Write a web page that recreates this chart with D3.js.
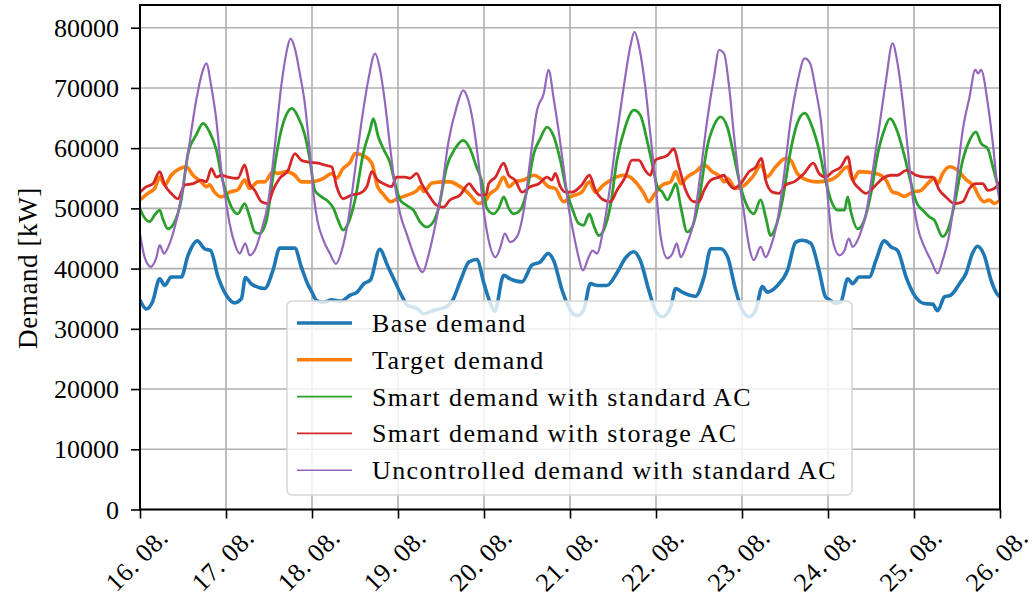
<!DOCTYPE html>
<html>
<head>
<meta charset="utf-8">
<script src="https://cdn.jsdelivr.net/npm/d3@7"></script>
<style>
  body { margin: 0; background: #fff; }
  text { font-family: "Liberation Serif", "Times New Roman", serif; fill: #000; }
</style>
</head>
<body>
<svg id="chart" width="1036" height="601"></svg>
<script>
// hours since 16.08. 00:00, demand in kW
var baseDemand = [
  [0,34800],[1.8,33300],[3.5,34500],[5.5,38300],[6.9,37200],[8.7,38600],[11.5,38600],[13.4,42200],[16,44600],[18,43300],
  [19.7,43000],[21.8,38600],[24.4,35300],[26.4,34300],[28.3,35000],[29.4,38500],[31,37500],[34.8,36700],[37.1,39700],[39,43400],
  [43.2,43400],[45,40300],[46.9,37300],[47.8,36300],[49.3,34700],[51.2,34400],[53.5,34800],[56,34600],[58.7,35600],[60.6,36100],
  [62.5,37500],[64.3,38100],[66.9,43200],[69,40600],[70.8,38300],[73.2,35300],[74.6,33900],[77.3,33400],[79.2,32500],[82,33100],
  [85.3,33600],[87.2,34700],[89.5,38100],[91.8,41100],[94,41500],[96,37500],[97.8,34200],[99,32900],[101.5,38900],[103.3,38300],
  [106.6,37800],[109.4,40600],[111.7,41100],[113.9,42500],[115.4,41400],[117.8,36400],[120.1,33100],[122,32200],[123.8,33100],[125.7,37500],
  [127.6,37200],[130.3,37200],[133.2,39400],[135.4,41700],[137.8,42800],[139.6,41400],[142,36400],[143.8,33100],[145.8,32000],[148.1,33600],
  [149.5,36700],[151.3,36100],[155,35400],[157.4,38600],[159.3,43300],[162,43300],[164,41900],[166,37000],[167.7,33600],[170,32000],
  [171.8,33100],[173.7,37000],[175,36100],[177.9,37200],[180.7,39700],[183,44400],[184.8,44700],[187.2,44200],[189.5,39700],[191.3,35300],
  [192.5,34800],[194.2,34200],[195.6,34500],[197.5,38300],[198.9,37500],[200.7,38600],[203.5,38600],[205.4,41400],[207.7,44600],[209.6,43600],
  [211.4,43000],[213.8,38600],[216.1,35600],[218.9,34200],[221.2,34100],[222.6,33000],[224.5,35300],[226.3,35600],[228.7,37500],[230.5,39200],
  [232.3,42500],[233.7,43700],[235.6,42200],[237.5,38100],[239.3,35700],[240,35300]
];

var targetDemand = [
  [0,51400],[2.2,52500],[4.1,53300],[5.5,55200],[6.9,53900],[8.7,55500],[11.1,56600],[12.9,56900],[14.8,55500],[17.1,54400],
  [18.5,53600],[19.4,53900],[20.8,52700],[22.7,51900],[25,52700],[27.3,53100],[29.2,54700],[30.6,53300],[32.9,54400],[34.8,54400],
  [37.1,56100],[38.5,55800],[40.8,56100],[43.2,55500],[45,54400],[47.4,54400],[51.2,55000],[53.5,55800],[54.9,55000],[56.5,56500],
  [58.7,57700],[60,59100],[62.8,58600],[64.7,57500],[66.3,53600],[67.7,52500],[70,51100],[71.8,51600],[74.6,52200],[77.4,53000],
  [78.2,53600],[79.2,52800],[81.5,54200],[84.8,54400],[86.7,54400],[88.5,53900],[90.8,53000],[92.6,51900],[94.4,50800],[96.6,51400],
  [97.3,52200],[99.6,53300],[101.5,55200],[102.9,53600],[104.7,54400],[107.1,54700],[109.9,55500],[111.7,55000],[114,53600],[115.9,53300],
  [118.2,51100],[120.1,51900],[123.3,52700],[125.4,54400],[127.1,52700],[129.4,53900],[132.2,55000],[135,55500],[136.8,55200],[138.7,54100],
  [140.6,52500],[142,51100],[143.4,52200],[145.8,53900],[148.1,54400],[149.5,56100],[150.9,54100],[152.7,55200],[155.1,56100],[157.4,57200],
  [159.7,56100],[162,55200],[163,54400],[164,55000],[166.2,53300],[168.1,53600],[170.9,55200],[173.4,57200],[174.9,55200],[177.4,56900],
  [180.2,58300],[181.6,58000],[183.4,55800],[186.2,54700],[189,54400],[192.6,54700],[194.2,55200],[197.5,56900],[198.9,54700],[200.7,56100],
  [205.4,55800],[208.2,54700],[210,52700],[211.4,52500],[213.3,52000],[215.6,52700],[218,53000],[219.8,54100],[221.7,55000],[222.6,54100],
  [224,55800],[226,56900],[228.2,56300],[230.5,54800],[232.8,53600],[234.2,51900],[235.6,51100],[237,51400],[238.4,50800],[240,51400]
];

var smartStandard = [
  [0,50000],[0.4,49400],[2.7,47800],[4.1,48900],[5.5,49700],[6.4,48200],[7.8,46600],[9.7,47800],[11.5,51400],[13.4,59100],
  [15.7,62200],[17.6,64100],[19.4,62700],[21.3,59700],[22.7,55500],[24.1,52500],[26,49700],[27.3,49100],[29.2,50800],[30.6,48600],
  [32,46100],[33.4,45800],[35.3,48000],[37.1,55200],[39,61900],[40.8,65500],[42.4,66600],[44.1,65200],[45.9,62400],[47.3,58500],
  [48.8,53000],[50.7,51900],[52.6,51100],[54,50000],[55.3,48000],[56.7,46400],[58.1,47500],[60,51400],[62.3,59100],[64.2,63000],
  [65.1,64900],[66.5,61900],[67.9,59900],[69.8,57500],[71.2,54100],[72.6,51400],[74.4,50500],[76.3,49700],[78.1,47800],[80,46900],
  [81.9,47800],[83.3,50000],[85.6,56900],[87.9,59900],[90.2,61300],[92.1,59900],[93.9,56900],[95.3,54700],[96.8,50000],[98.7,49100],
  [100.1,50000],[101.5,51900],[102.9,50000],[104.3,49100],[106.1,49700],[108,53000],[109.9,59100],[111.7,61600],[113.6,63500],[115.5,61900],
  [117.3,58000],[119.2,52500],[120.6,50000],[122.4,47500],[123.8,47200],[125.4,49100],[126.6,47200],[128,45500],[129.4,46400],[131.3,50500],
  [133.1,58000],[135.4,63500],[137.8,66300],[139.6,65500],[141.5,61300],[142.9,57500],[144.4,53600],[145.8,52700],[147.2,51400],[148.6,53000],
  [149.5,54100],[150.9,50300],[152.7,46100],[154.1,46900],[156,51400],[158.3,60200],[160.2,63800],[162,65200],[163.9,63500],[165.8,58600],
  [167.6,53600],[169.5,50300],[171.3,49100],[173.2,51400],[174.6,48600],[176,45500],[177.4,46900],[179.3,51400],[181.6,59700],[183.4,64100],
  [185.5,65800],[187.6,63500],[189.5,59700],[191.3,54700],[192.8,51400],[194.7,49700],[196.6,49700],[197.5,51900],[198.4,49400],[200.3,46600],
  [202.1,48000],[204,52500],[205.9,59100],[207.7,63000],[209.3,64900],[211.4,62700],[213.3,58800],[215.2,54100],[216.6,51100],[218.4,49700],
  [220.3,48600],[221.7,48000],[224,45300],[225.9,47200],[227.7,51900],[229.6,58000],[231.5,61300],[233.3,62700],[234.7,60800],[236.6,59900],
  [238,56900],[240,52500]
];

var smartStorage = [
  [0,52700],[1.8,53600],[3.6,54100],[5.5,56100],[6.9,53900],[8.7,52500],[10.6,51600],[12.5,53900],[14.8,54100],[17.1,54700],
  [18.5,54400],[19.9,56600],[21.3,55200],[22.7,55500],[24.6,55200],[27.3,55000],[29.2,57200],[30.6,54100],[32,53000],[33.9,51100],
  [35.7,50800],[37.1,53000],[39,55000],[41.3,56300],[43.2,59100],[45,58000],[46.9,57700],[49.8,57500],[51.6,57200],[53.5,56900],
  [54.9,53600],[56.7,51600],[59,52200],[61.4,52500],[63.3,53600],[64.7,56100],[66.3,54700],[68,54100],[70.2,53600],[71.6,55200],
  [74,55200],[75.3,55000],[77.2,55800],[78.6,54100],[80.9,51900],[82.8,50500],[84.7,50200],[86.5,51400],[89.3,52200],[91.9,54100],
  [93,53300],[94.9,52200],[96.6,52300],[97.3,54100],[99.2,55200],[101.5,57500],[102.9,55500],[104.7,54700],[106.6,52700],[108.9,53600],
  [111.3,54100],[113.6,55200],[114.9,54700],[115.9,55800],[117.3,53600],[118.7,52700],[120.6,52700],[123.3,53900],[125.4,55500],[127.1,53000],
  [129.4,51400],[131.3,51100],[133.1,53000],[135.4,55200],[137.3,58000],[139.2,58000],[141,56300],[142.4,55500],[143.8,58000],[144.8,58300],
  [147.2,58800],[149,59900],[150.4,56900],[152.3,53000],[154.6,51100],[156,51100],[157.4,53000],[159.3,54700],[161.6,55200],[163,55500],
  [164,54400],[165.8,53300],[167.6,54100],[170,56100],[171.9,56900],[173.4,58300],[174.6,54700],[176.5,52700],[178.3,52500],[180.2,53900],
  [182.5,54400],[185.3,55800],[187.9,57500],[189.5,55800],[191.3,55200],[193.3,56100],[195.6,56900],[197.5,58600],[198.9,54700],[200.7,53300],
  [202.6,52500],[204.9,53600],[207.3,55000],[209.6,55500],[211.4,55500],[213.8,56300],[215.2,56000],[216.6,55500],[219.3,55200],[221.2,55200],
  [223.1,53000],[224.9,51900],[227.3,50800],[229.6,51100],[231.5,53300],[233.3,54100],[235.2,54100],[236.6,53000],[238.4,53300],[240,54400]
];

var uncontrolled = [
  [0,45800],[1.3,41900],[3,40300],[4.6,41900],[5.5,43900],[6.7,42500],[8.3,44200],[9.7,46900],[11.5,51900],[13.4,59100],
  [15.7,68000],[17.6,73000],[18.5,74100],[19.9,70200],[21.3,64700],[22.7,56300],[23.8,51900],[25,47500],[26.4,44200],[27.8,42500],
  [29.4,44200],[30.6,42200],[32,43000],[33.9,46400],[35.7,50800],[37.6,60200],[39.4,70200],[40.8,75700],[42,78200],[43.2,76600],
  [44.6,72400],[46,67400],[47.3,60000],[48.6,51500],[49.5,48000],[51.2,44700],[53,42500],[54.7,40800],[56.3,43000],[58.1,48000],
  [60,56300],[61.9,64700],[63.7,71300],[65.6,75700],[67,73000],[68.4,67400],[69.8,60200],[71.2,53600],[72.6,49100],[74.4,45800],
  [76.3,42500],[78.9,39400],[80.5,42200],[82.3,46900],[84.2,53000],[86,60800],[88.4,66900],[90.2,69600],[91.6,68000],[93,64100],
  [94.4,58000],[95.8,50200],[97.3,44700],[99.2,41900],[100.6,43600],[101.8,45800],[103.3,44400],[105.2,45300],[107.1,49700],[108.9,58000],
  [110.8,66300],[112.7,69100],[114,73000],[115.5,68000],[116.8,63000],[118.2,56900],[119.6,50200],[121,45800],[122.4,41900],[123.6,39700],
  [125.2,41900],[126.3,43000],[127.5,42500],[129.4,46900],[131.3,54100],[133.1,62400],[135,70200],[136.8,76800],[138,79300],[139.3,76800],
  [141,70200],[142.4,62400],[143.8,54700],[145.3,45300],[147.2,41700],[148.6,42500],[149.8,44200],[150.9,41900],[152.7,44200],[154.6,48000],
  [156.5,56300],[158.3,64700],[160.2,71900],[161.6,76300],[163,75700],[164.4,70200],[165.8,61900],[167.2,54700],[168.6,49100],[170,43600],
  [171.3,41400],[173.2,43600],[174.6,41900],[176,43600],[177.9,48000],[179.8,55800],[181.6,64700],[183.4,70700],[185.5,74900],[187,74100],
  [188.6,69600],[190,64700],[191.3,56300],[191.9,52000],[193.3,44700],[195.2,42200],[196.6,43000],[197.8,45000],[198.9,43600],[200.7,45300],
  [202.6,49100],[204.5,56300],[206.3,63500],[208.2,71300],[210,77400],[211.4,74100],[212.8,68000],[214.2,60200],[215.6,51900],[217,46900],
  [218.9,43600],[220.7,41400],[222.6,39200],[224,41400],[225.9,45800],[227.7,53600],[229.6,63000],[231.5,68500],[233.1,73000],[233.9,72400],
  [234.7,73000],[236.6,67400],[238,60800],[239.4,53000],[240,51000]
];

var dayLabels = ["16. 08.","17. 08.","18. 08.","19. 08.","20. 08.","21. 08.","22. 08.","23. 08.","24. 08.","25. 08.","26. 08."];
var yTicks = [0,10000,20000,30000,40000,50000,60000,70000,80000];

var seriesNames = ["Base demand","Target demand","Smart demand with standard AC","Smart demand with storage AC","Uncontrolled demand with standard AC"];
var seriesData = [baseDemand, targetDemand, smartStandard, smartStorage, uncontrolled];
var seriesColors = ["#1f77b4","#ff7f0e","#2ca02c","#d62728","#9467bd"];
var seriesWidths = [3.6, 3.6, 2.8, 2.8, 2.2];
var legendWidths = [3.6, 3.6, 1.6, 1.6, 1.6];

var plot = {left: 140, right: 1000, top: 5, bottom: 509.5};

var svg = d3.select("#chart");

var x = d3.scaleLinear().domain([0, 240]).range([plot.left, plot.right]);
var y = d3.scaleLinear().domain([0, 83770]).range([plot.bottom, plot.top]);

svg.append("defs").append("clipPath").attr("id", "clip")
  .append("rect")
  .attr("x", plot.left).attr("y", plot.top)
  .attr("width", plot.right - plot.left).attr("height", plot.bottom - plot.top);

// grid
var grid = svg.append("g").attr("class", "grid");
grid.selectAll(".vgrid")
  .data(dayLabels)
  .enter().append("line")
  .attr("x1", function(d, i) { return x(i * 24); })
  .attr("x2", function(d, i) { return x(i * 24); })
  .attr("y1", plot.top).attr("y2", plot.bottom)
  .attr("stroke", "#b0b0b0").attr("stroke-width", 1.6);
grid.selectAll(".hgrid")
  .data(yTicks)
  .enter().append("line")
  .attr("x1", plot.left).attr("x2", plot.right)
  .attr("y1", function(d) { return y(d); })
  .attr("y2", function(d) { return y(d); })
  .attr("stroke", "#b0b0b0").attr("stroke-width", 1.6);

// lines
var line = d3.line()
  .x(function(d) { return x(d[0]); })
  .y(function(d) { return y(d[1]); })
  .curve(d3.curveMonotoneX);

svg.append("g")
  .attr("clip-path", "url(#clip)")
  .selectAll("path")
  .data(seriesData)
  .enter().append("path")
  .attr("d", line)
  .attr("fill", "none")
  .attr("stroke", function(d, i) { return seriesColors[i]; })
  .attr("stroke-width", function(d, i) { return seriesWidths[i]; })
  .attr("stroke-linejoin", "round");

// x axis
var xAxis = d3.axisBottom(x)
  .tickValues(d3.range(0, 241, 24))
  .tickSize(9)
  .tickFormat("");
var gx = svg.append("g")
  .attr("transform", "translate(0," + plot.bottom + ")")
  .call(xAxis);
gx.select(".domain").remove();
gx.selectAll(".tick line").attr("stroke", "#000").attr("stroke-width", 1.6);

svg.append("g").selectAll("text")
  .data(dayLabels)
  .enter().append("text")
  .attr("transform", function(d, i) { return "translate(" + (x(i * 24) - 3) + ",560) rotate(-45)"; })
  .attr("text-anchor", "middle")
  .attr("dominant-baseline", "central")
  .style("font-size", "26px")
  .style("letter-spacing", "0.6px")
  .text(function(d) { return d; });

// y axis
var yAxis = d3.axisLeft(y)
  .tickValues(yTicks)
  .tickSize(9)
  .tickFormat("");
var gy = svg.append("g")
  .attr("transform", "translate(" + plot.left + ",0)")
  .call(yAxis);
gy.select(".domain").remove();
gy.selectAll(".tick line").attr("stroke", "#000").attr("stroke-width", 1.6);

svg.append("g").selectAll("text")
  .data(yTicks)
  .enter().append("text")
  .attr("x", 119)
  .attr("y", function(d) { return y(d) + 9; })
  .attr("text-anchor", "end")
  .style("font-size", "26px")
  .text(function(d) { return d3.format("d")(d); });

svg.append("text")
  .attr("transform", "translate(37,268) rotate(-90)")
  .attr("text-anchor", "middle")
  .style("font-size", "27px")
  .style("letter-spacing", "0.6px")
  .text("Demand [kW]");

// frame
svg.append("rect")
  .attr("x", plot.left).attr("y", plot.top)
  .attr("width", plot.right - plot.left).attr("height", plot.bottom - plot.top)
  .attr("fill", "none").attr("stroke", "#000").attr("stroke-width", 2);

// legend
var legend = svg.append("g").attr("class", "legend");
legend.append("rect")
  .attr("x", 287).attr("y", 301)
  .attr("width", 565).attr("height", 194)
  .attr("rx", 5).attr("ry", 5)
  .attr("fill", "#fff").attr("fill-opacity", 0.8)
  .attr("stroke", "#d6d6d6").attr("stroke-width", 1.5);

var rows = legend.selectAll(".row")
  .data(seriesNames)
  .enter().append("g")
  .attr("transform", function(d, i) { return "translate(0," + (323 + i * 36.8) + ")"; });
rows.append("line")
  .attr("x1", 297).attr("x2", 352)
  .attr("y1", 0).attr("y2", 0)
  .attr("stroke", function(d, i) { return seriesColors[i]; })
  .attr("stroke-width", function(d, i) { return legendWidths[i]; });
rows.append("text")
  .attr("x", 372).attr("y", 9)
  .style("font-size", "26px")
  .style("letter-spacing", "1.4px")
  .text(function(d) { return d; });
</script>
</body>
</html>
